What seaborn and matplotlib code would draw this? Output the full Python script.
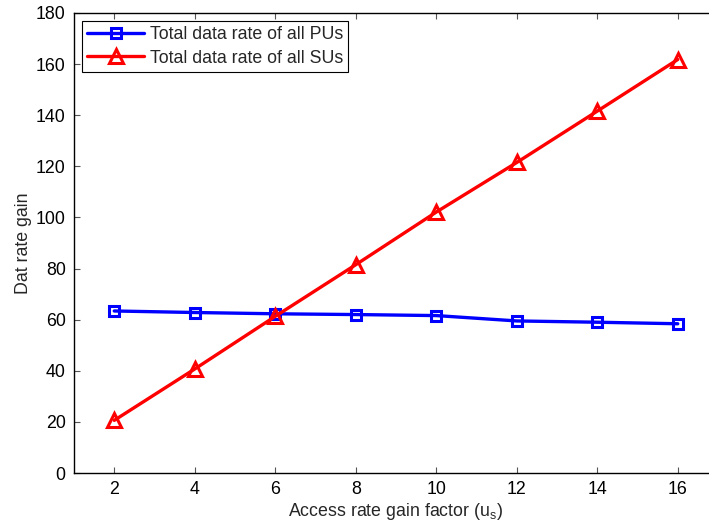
import matplotlib
matplotlib.use("Agg")
import matplotlib.pyplot as plt
import seaborn as sns
import pandas as pd

gain_factor = [2, 4, 6, 8, 10, 12, 14, 16]
pu_rate = [63.4, 62.8, 62.3, 62.0, 61.6, 59.5, 59.0, 58.4]
su_rate = [20.6, 40.7, 61.3, 81.5, 102.1, 121.5, 141.6, 161.8]
series_names = ["Total data rate of all PUs", "Total data rate of all SUs"]
x_ticks = [2, 4, 6, 8, 10, 12, 14, 16]
y_ticks = [0, 20, 40, 60, 80, 100, 120, 140, 160, 180]

df = pd.DataFrame({
    "x": gain_factor * 2,
    "y": pu_rate + su_rate,
    "series": [series_names[0]] * len(pu_rate) + [series_names[1]] * len(su_rate),
})

sns.set_style("ticks")
plt.rcParams["font.family"] = ["Liberation Sans", "DejaVu Sans"]
plt.rcParams["xtick.direction"] = "in"
plt.rcParams["ytick.direction"] = "in"

colors = ["#0000ff", "#ff0000"]
msizes = [7.5, 10]
FS = 12.8

fig = plt.figure(figsize=(7.09, 5.29), dpi=100)
fig.patch.set_linewidth(0)
ax = fig.add_axes([74 / 709, 1 - 473 / 529, (718 - 74) / 709, (473 - 13) / 529])
ax.patch.set_edgecolor("none")
ax.patch.set_linewidth(0)

sns.lineplot(data=df, x="x", y="y", hue="series", style="series",
             palette=colors, markers=["s", "^"], dashes=False,
             markeredgewidth=2.2, linewidth=2.4, ax=ax)

for line, col, ms in zip(ax.lines, colors, msizes):
    line.set_markeredgecolor(col)
    line.set_markerfacecolor("none")
    line.set_markersize(ms)

ax.set_xlim(1, 17)
ax.set_ylim(0, 180)
ax.set_xticks(x_ticks)
ax.set_yticks(y_ticks)
ax.tick_params(labelsize=FS, length=4, width=0.8, top=True, right=False,
               color="#555555", labelcolor="black", pad=6)
for name, s in ax.spines.items():
    s.set_linewidth(1.0)
    s.set_color("black")
ax.spines["right"].set_visible(False)
ax.set_xlabel("Access rate gain factor (u$_\\mathregular{s}$)", fontsize=FS, labelpad=2)
ax.set_ylabel("Dat rate gain", fontsize=FS, labelpad=3)

handles, labels = ax.get_legend_handles_labels()
for h, col, ms in zip(handles, colors, msizes):
    h.set_markerfacecolor("none")
    h.set_markeredgecolor(col)
    h.set_markersize(ms)
    h.set_linewidth(2.4)
    h.set_markeredgewidth(2.2)
leg = ax.legend(handles, labels, loc="upper left", fontsize=FS, frameon=True,
                fancybox=False, edgecolor="black", framealpha=1,
                borderaxespad=0.45, handlelength=3.2, handletextpad=0.3,
                labelspacing=0.35, borderpad=0.3)
leg.get_frame().set_linewidth(0.8)

fig.savefig("out.png", dpi=100)
